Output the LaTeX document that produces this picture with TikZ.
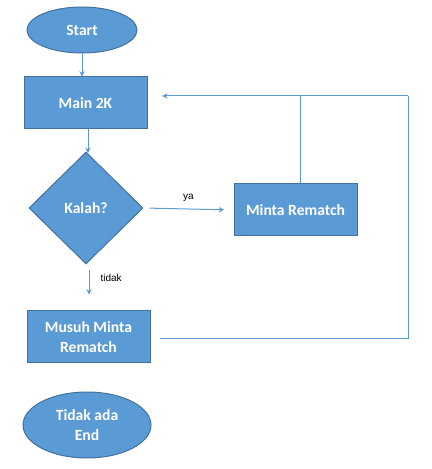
\documentclass[tikz,border=0pt]{standalone}
\usepackage{fontspec}
\setmainfont{Carlito}
\newfontfamily\labelfont{Liberation Sans}
\usetikzlibrary{shapes.geometric,arrows.meta}
\definecolor{boxblue}{HTML}{5B9BD5}
\definecolor{boxedge}{HTML}{41719C}

\begin{document}
\begin{tikzpicture}[x=0.75pt, y=0.75pt,
  block/.style={draw=boxedge, fill=boxblue, text=white, line width=0.75pt,
    font=\fontsize{11.7}{15.5}\selectfont\bfseries, align=center, inner sep=0pt},
  process/.style={block, rectangle, minimum width=92.25pt, minimum height=39pt},
  terminal/.style={block, ellipse},
  flow/.style={draw=boxblue, line width=0.75pt},
  arrow/.style={flow, -{Stealth[length=4pt,width=4pt]}},
  lbl/.style={font=\labelfont\fontsize{7.5}{9}\selectfont, text=black}]
  \useasboundingbox (0,0) rectangle (432,469);

  \node[terminal, minimum width=82.5pt, minimum height=34.5pt] (start) at (82,439) {Start};
  \node[process] (main) at (85.5,366) {Main 2K};
  \node[block, diamond, minimum width=85.5pt, minimum height=84pt] (kalah) at (86,261) {Kalah?};
  \node[process] (rematch) at (295.5,259) {Minta Rematch};
  \node[process] (musuh) at (88.5,132) {Musuh Minta\\Rematch};
  \node[terminal, minimum width=96pt, minimum height=49.5pt] (end) at (87,44) {Tidak ada\\End};

  \coordinate (top right) at (408,373);
  \coordinate (bottom right) at (408,130);

  \draw[arrow] (start.south) -- (start.south |- main.north);
  \draw[arrow] (main.south -| 88,0) -- (88,316);
  \draw[arrow, shorten <=4.5pt, shorten >=7pt] (kalah.east) -- (rematch.west) node[lbl, midway, above=2pt] {ya}; % yes
  \draw[arrow, shorten <=4.5pt, shorten >=12pt] (kalah.south -| 89,0) -- (musuh.north -| 89,0) node[lbl, pos=0.3, right=5pt] {tidak}; % no

  \draw[flow] (rematch.north -| 300,0) -- (300,373);
  \draw[arrow, shorten >=11pt] (top right) -- (top right -| main.east);
  \draw[flow, shorten <=7pt] (musuh.east |- bottom right) -- (bottom right) -- (top right);

\end{tikzpicture}
\end{document}
